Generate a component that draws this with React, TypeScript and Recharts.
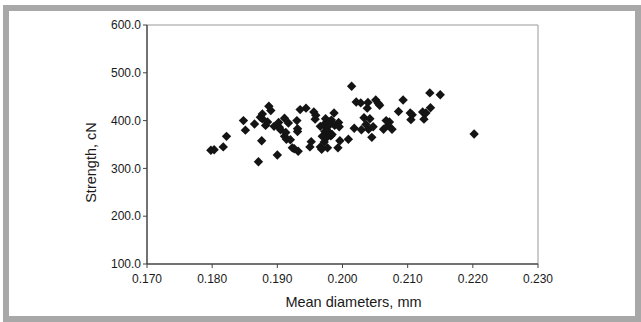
import React from 'react';
import { ScatterChart, Scatter, XAxis, YAxis, Label, ReferenceLine } from 'recharts';

const diameters = [
  0.1798, 0.1803, 0.1817, 0.1822, 0.1848, 0.1851, 0.1865, 0.1871, 0.1874, 0.1876,
  0.1877, 0.1877, 0.1882, 0.1885, 0.1887, 0.189, 0.1895, 0.19, 0.1902, 0.1903,
  0.1905, 0.1911, 0.1911, 0.1913, 0.1914, 0.1917, 0.192, 0.1923, 0.1926, 0.193,
  0.1931, 0.1931, 0.1932, 0.1935, 0.1944, 0.195, 0.1952, 0.1956, 0.1958, 0.1959,
  0.1966, 0.1966, 0.1968, 0.1969, 0.1971, 0.1972, 0.1973, 0.1974, 0.1976, 0.1977,
  0.1978, 0.1979, 0.198, 0.1982, 0.1983, 0.1984, 0.1987, 0.1988, 0.1993, 0.1994,
  0.1995, 0.1996, 0.2009, 0.2014, 0.2018, 0.2021, 0.2028, 0.2029, 0.2033, 0.2036,
  0.2038, 0.2039, 0.204, 0.2042, 0.2045, 0.2047, 0.2051, 0.2055, 0.2057, 0.2063,
  0.2067, 0.207, 0.2072, 0.2076, 0.2086, 0.2093, 0.2104, 0.2105, 0.2107, 0.2123,
  0.2125, 0.2128, 0.2134, 0.2135, 0.215, 0.2202,
];
const strengths = [
  338, 339, 345, 367, 400, 380, 393, 314, 407, 358,
  414, 404, 390, 397, 430, 421, 388, 328, 396, 386,
  381, 405, 367, 375, 361, 395, 360, 343, 341, 400,
  383, 377, 336, 423, 426, 345, 356, 418, 403, 411,
  388, 345, 340, 367, 391, 355, 377, 404, 365, 343,
  388, 376, 397, 368, 401, 371, 416, 390, 343, 396,
  387, 358, 361, 472, 384, 439, 437, 381, 406, 392,
  426, 438, 382, 404, 365, 387, 443, 436, 432, 382,
  400, 390, 397, 382, 419, 443, 416, 402, 412, 418,
  403, 416, 458, 427, 454, 372,
];
const xTicks = [0.17, 0.18, 0.19, 0.2, 0.21, 0.22, 0.23];
const yTicks = [100, 200, 300, 400, 500, 600];
const xTitle = 'Mean diameters, mm';
const yTitle = 'Strength, cN';

const data = diameters.map((d, i) => ({ x: d, y: strengths[i] }));

const FONT = "Arial, 'Liberation Sans', Helvetica, sans-serif";

const Diamond = (p: any) => {
  const { cx, cy } = p;
  const r = 4.7;
  return (
    <path
      d={`M${cx},${cy - r}L${cx + r},${cy}L${cx},${cy + r}L${cx - r},${cy}Z`}
      fill="#141414"
    />
  );
};

const YTitle = (p: any) => {
  const vb = p.viewBox;
  const x = vb.x + 4;
  const y = vb.y + vb.height / 2 + 18;
  return (
    <text
      x={x}
      y={y}
      transform={`rotate(-90, ${x}, ${y})`}
      textAnchor="middle"
      dominantBaseline="central"
      fontSize={14.5}
      fontFamily={FONT}
      fill="#1a1a1a"
    >
      {yTitle}
    </text>
  );
};

const XTitle = (p: any) => {
  const vb = p.viewBox;
  const x = vb.x + vb.width / 2 + 11;
  const y = vb.y + 38;
  return (
    <text x={x} y={y} textAnchor="middle" dominantBaseline="central" fontSize={14.5} fontFamily={FONT} fill="#1a1a1a">
      {xTitle}
    </text>
  );
};

export default function App() {
  return (
    <div style={{ position: 'fixed', left: 0, top: 0, width: 641, height: 322, background: '#fff', overflow: 'hidden' }}>
      <div
        style={{
          position: 'absolute',
          left: 3,
          top: 5,
          width: 638,
          height: 317,
          boxSizing: 'border-box',
          border: '6px solid #a8a8a8',
        }}
      />
      <div style={{ position: 'absolute', left: 0, top: 0 }}>
        <ScatterChart width={641} height={322} margin={{ top: 25, right: 103, bottom: 18, left: 87 }}>
          <XAxis
            type="number"
            dataKey="x"
            domain={[0.17, 0.23]}
            ticks={xTicks}
            tickFormatter={(v: number) => v.toFixed(3)}
            allowDataOverflow
            height={40}
            axisLine={{ stroke: '#444', strokeWidth: 1.5 }}
            tickLine={{ stroke: '#444' }}
            tickSize={4}
            tickMargin={6}
            tick={{ fontSize: 12, fontFamily: FONT, fill: '#1a1a1a' }}
          >
            <Label content={XTitle} />
          </XAxis>
          <YAxis
            type="number"
            dataKey="y"
            domain={[100, 600]}
            ticks={yTicks}
            tickFormatter={(v: number) => v.toFixed(1)}
            allowDataOverflow
            width={60}
            axisLine={{ stroke: '#444', strokeWidth: 1.5 }}
            tickLine={{ stroke: '#444' }}
            tickSize={4}
            tickMargin={2}
            tick={{ fontSize: 12, fontFamily: FONT, fill: '#1a1a1a' }}
          >
            <Label content={YTitle} />
          </YAxis>
          <ReferenceLine y={600} stroke="#999" strokeWidth={1} />
          <ReferenceLine x={0.23} stroke="#999" strokeWidth={1} />
          <Scatter data={data} shape={Diamond} isAnimationActive={false} />
        </ScatterChart>
      </div>
    </div>
  );
}
